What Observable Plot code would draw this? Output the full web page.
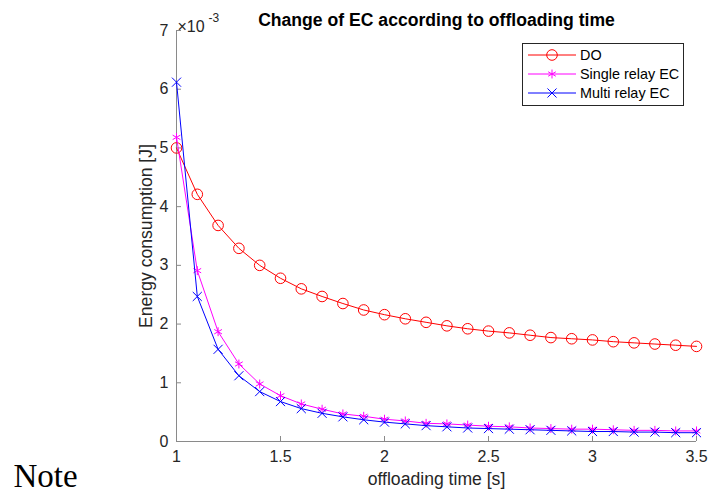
<!DOCTYPE html>
<html>
<head>
<meta charset="utf-8">
<script src="https://cdn.jsdelivr.net/npm/d3@7"></script>
<script src="https://cdn.jsdelivr.net/npm/@observablehq/plot@0.6"></script>
<style>
  html, body { margin: 0; padding: 0; background: #fff; }
  #wrap { position: relative; width: 708px; height: 502px; }
  #legend {
    position: absolute; left: 522px; top: 43px; width: 162px; height: 63px;
    border: 1px solid #262626; background: #fff; box-sizing: border-box;
    font-family: "Liberation Sans", Arial, sans-serif; font-size: 14.4px; color: #000;
  }
  #legend .row { position: absolute; left: 0; height: 18px; display: flex; align-items: center; }
  #legend svg { display: block; }
  #legend span { margin-left: 4px; white-space: nowrap; }
</style>
</head>
<body>
<div id="wrap"><div id="chart"></div><div id="legend"></div></div>
<script>
// offloading time [s]
const time = [1.0, 1.1, 1.2, 1.3, 1.4, 1.5, 1.6, 1.7, 1.8, 1.9, 2.0, 2.1, 2.2,
              2.3, 2.4, 2.5, 2.6, 2.7, 2.8, 2.9, 3.0, 3.1, 3.2, 3.3, 3.4, 3.5];
// energy consumption, in units of 1e-3 J
const doEC = [5.00, 4.21, 3.68, 3.29, 3.00, 2.78, 2.60, 2.47, 2.35, 2.24, 2.16, 2.09, 2.03,
              1.97, 1.92, 1.88, 1.85, 1.81, 1.77, 1.75, 1.73, 1.70, 1.68, 1.66, 1.64, 1.62];
const singleEC = [5.18, 2.91, 1.87, 1.32, 0.98, 0.78, 0.64, 0.55, 0.47, 0.43, 0.38, 0.35, 0.31,
                  0.30, 0.28, 0.26, 0.25, 0.23, 0.22, 0.21, 0.21, 0.20, 0.19, 0.19, 0.18, 0.18];
const multiEC = [6.12, 2.47, 1.57, 1.12, 0.85, 0.68, 0.56, 0.48, 0.42, 0.37, 0.33, 0.30, 0.27,
                 0.25, 0.23, 0.22, 0.21, 0.20, 0.19, 0.18, 0.17, 0.17, 0.16, 0.16, 0.15, 0.15];

const seriesNames = ["DO", "Single relay EC", "Multi relay EC"];
const seriesColors = ["#ff0000", "#ff00ff", "#0000ff"];
const seriesSymbols = ["circle", "asterisk", "times"];
const seriesValues = [doEC, singleEC, multiEC];

const xTicks = [1, 1.5, 2, 2.5, 3, 3.5];
const yTicks = [0, 1, 2, 3, 4, 5, 6, 7];

const title = "Change of EC according to offloading time";
const xLabel = "offloading time [s]";
const yLabel = "Energy consumption [J]";
const note = "Note";

const rows = seriesNames.flatMap((name, i) =>
  time.map((t, j) => ({series: name, t, e: seriesValues[i][j]})));

const font = "'Liberation Sans', Arial, Helvetica, sans-serif";
const axisGray = "#8a8a8a";
const textDark = "#262626";

const marks = [
  Plot.ruleY([0], {stroke: axisGray, strokeWidth: 1}),
  Plot.ruleX([1], {stroke: axisGray, strokeWidth: 1}),
  Plot.axisX(xTicks, {tickSize: -5, tickPadding: 14, stroke: axisGray, color: textDark, fontSize: 16, tickFormat: d => String(d), label: null}),
  Plot.axisY(yTicks, {tickSize: -5, tickPadding: 13, stroke: axisGray, color: textDark, fontSize: 16, tickFormat: d => String(d), label: null})
];

seriesNames.forEach((name, i) => {
  const data = rows.filter(d => d.series === name);
  marks.push(Plot.line(data, {x: "t", y: "e", stroke: seriesColors[i], strokeWidth: 1}));
  marks.push(Plot.dot(data, {
    x: "t", y: "e", symbol: () => seriesSymbols[i], r: i === 0 ? 5.3 : 4.2,
    stroke: seriesColors[i], fill: "none", strokeWidth: 1
  }));
});

marks.push(
  Plot.text([title], {frameAnchor: "top", dy: -17, fontWeight: "bold", fontSize: 17.6, fill: "#000", fontFamily: font}),
  Plot.text([xLabel], {frameAnchor: "bottom", dy: 43, fontSize: 17.6, fill: textDark, fontFamily: font}),
  Plot.text([yLabel], {frameAnchor: "left", textAnchor: "middle", dx: -30, rotate: -90, fontSize: 17.6, fill: textDark, fontFamily: font}),
  Plot.text(["×10"], {frameAnchor: "top-left", dx: 1, dy: -10, textAnchor: "start", fontSize: 16, fill: textDark, fontFamily: font}),
  Plot.text(["-3"], {frameAnchor: "top-left", dx: 32, dy: -17, textAnchor: "start", fontSize: 12, fill: textDark, fontFamily: font}),
  Plot.text([note], {frameAnchor: "bottom-left", dx: -163, dy: 45, textAnchor: "start", fontSize: 33, fill: "#000", fontFamily: "'Liberation Serif', 'DejaVu Serif', serif"})
);

const chart = Plot.plot({
  width: 708,
  height: 502,
  marginTop: 30,
  marginRight: 12,
  marginBottom: 61,
  marginLeft: 176,
  style: {fontFamily: font, background: "#fff", overflow: "visible"},
  x: {domain: [1, 3.5]},
  y: {domain: [0, 7]},
  marks
});
document.getElementById("chart").appendChild(chart);

// legend entries
const legend = document.getElementById("legend");
seriesNames.forEach((name, i) => {
  const row = document.createElement("div");
  row.className = "row";
  row.style.top = (2 + i * 19) + "px";
  row.style.left = "5px";
  const w = 48, h = 18;
  const svg = d3.create("svg").attr("width", w).attr("height", h);
  svg.append("line").attr("x1", 0).attr("x2", w).attr("y1", h / 2).attr("y2", h / 2)
    .attr("stroke", seriesColors[i]).attr("stroke-width", 1);
  const sym = {circle: d3.symbolCircle, asterisk: d3.symbolAsterisk, times: d3.symbolTimes}[seriesSymbols[i]];
  const r = i === 0 ? 5.3 : 4.2;
  svg.append("path").attr("transform", `translate(${w / 2},${h / 2})`)
    .attr("d", d3.symbol(sym, Math.PI * r * r)())
    .attr("fill", "none").attr("stroke", seriesColors[i]).attr("stroke-width", 1);
  row.appendChild(svg.node());
  const label = document.createElement("span");
  label.textContent = name;
  row.appendChild(label);
  legend.appendChild(row);
});
</script>
</body>
</html>
